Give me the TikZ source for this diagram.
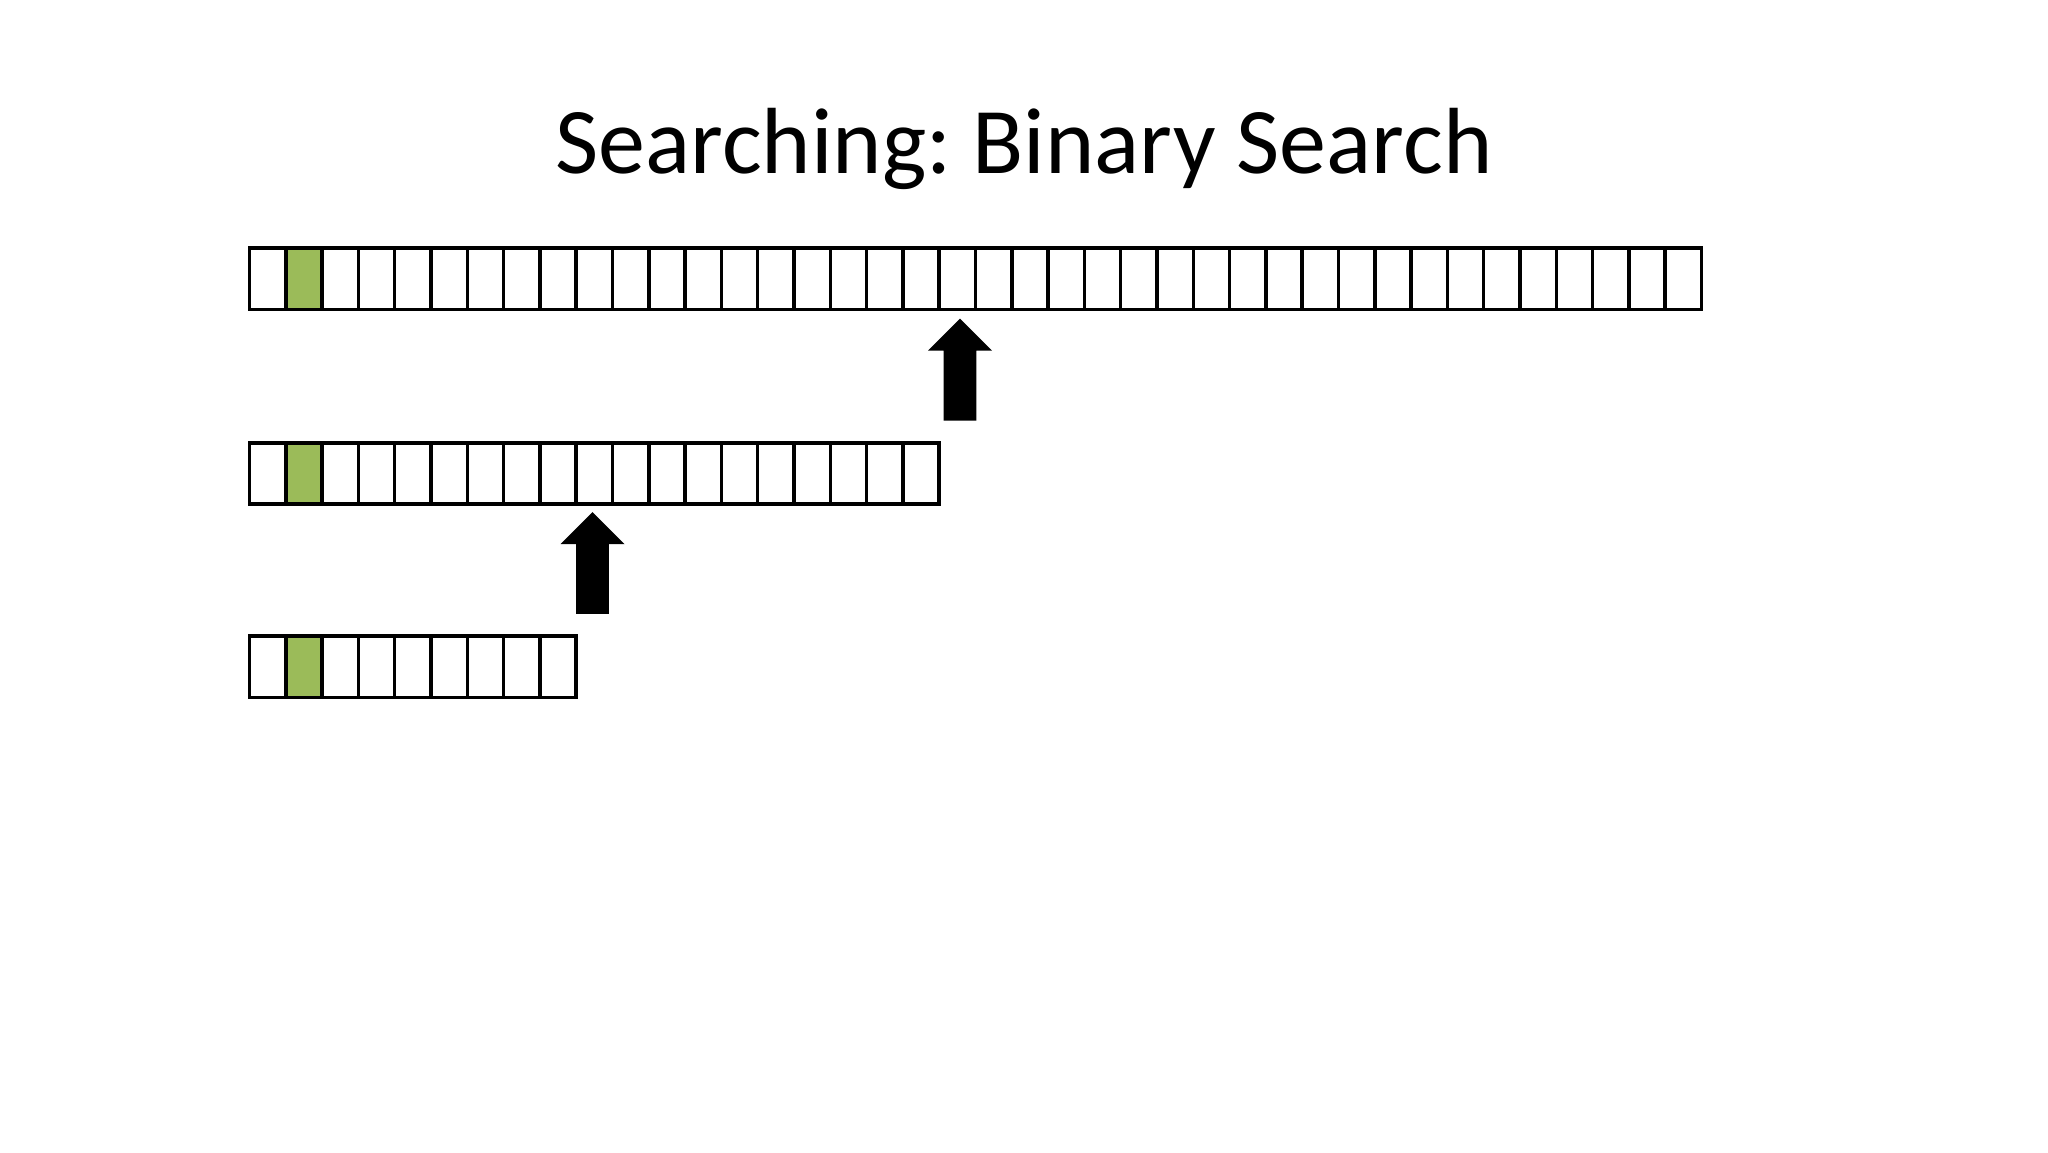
\documentclass[tikz,border=0pt]{standalone}
\usepackage{fontspec}
\setmainfont{Carlito}
\frenchspacing
\definecolor{cellgreen}{HTML}{9BBB59}
\begin{document}
\begin{tikzpicture}[x=1pt,y=-1pt,
  cell/.style={draw=black, line width=3.5pt, minimum width=36.3pt, minimum height=61.3pt, inner sep=0pt, outer sep=0pt, anchor=north west},
  hit/.style={cell, fill=cellgreen},
  blockarrow/.style={fill=black}]
\useasboundingbox (0,0) rectangle (2048,1152);
\node[anchor=base, inner sep=0pt, font=\fontsize{94}{110}\selectfont] (title) at (1024,173.7) {Searching: Binary Search};
\foreach \r/\y/\n in {a/248.2/40, b/442.8/19, c/636/9} {
  \foreach \i in {1,...,\n} {
    \node[cell] (\r\i) at ({249.5+(\i-1)*36.3},\y) {};
  }
  \node[hit] (\r g) at (\r2.north west) {};
}
% block arrows
\fill[blockarrow] (960,318.7) -- (992,350.7) -- (976.3,350.7) -- (976.3,420.6) -- (943.7,420.6) -- (943.7,350.7) -- (928,350.7) -- cycle;
\fill[blockarrow] (592.5,512) -- (624.5,544) -- (608.8,544) -- (608.8,613.9) -- (576.2,613.9) -- (576.2,544) -- (560.5,544) -- cycle;
\end{tikzpicture}
\end{document}
